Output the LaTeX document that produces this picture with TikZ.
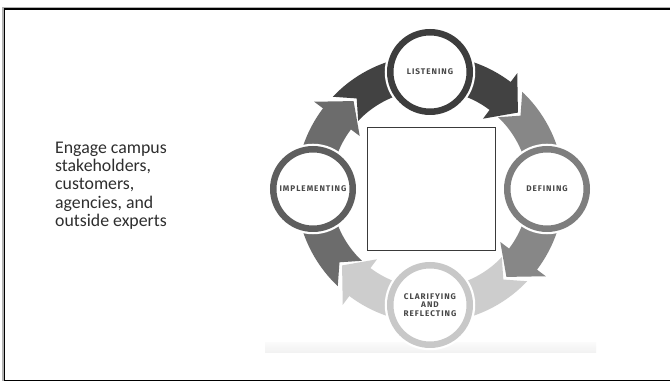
\documentclass[tikz,border=0pt]{standalone}
\usepackage{fontspec}
\setmainfont{Carlito}
\newfontfamily\labfont{Fira Sans}[LetterSpace=12]
\definecolor{cList}{HTML}{3D3D3D}
\definecolor{cDef}{HTML}{7E7E7E}
\definecolor{cClar}{HTML}{C8C8C8}
\definecolor{cImpl}{HTML}{5E5E5E}
\definecolor{aList}{HTML}{424242}
\definecolor{aDef}{HTML}{878787}
\definecolor{aClar}{HTML}{CDCDCD}
\definecolor{aImpl}{HTML}{6C6C6C}
\definecolor{labtext}{HTML}{484848}
\definecolor{bodytext}{HTML}{2E2E2E}
\definecolor{boxline}{HTML}{3A3A3A}
\newcommand\ringarrow[3]{%
  \fill[#1] ({#2+7.5}:134) arc[start angle={#2+7.5}, end angle=#3, radius=134]
    -- (#3:145) -- ({#3-12}:116.5) -- (#3:88) -- (#3:99)
    arc[start angle=#3, end angle={#2+7.5}, radius=99] -- (#2:116.5) -- cycle;}
\begin{document}
\begin{tikzpicture}[x=1pt,y=1pt,
  stage/.style={circle, minimum size=79.5pt, inner sep=0pt, fill=white,
    draw=#1, line width=6.5pt,
    preaction={draw=white, line width=11pt},
    font=\labfont\bfseries\fontsize{8.2}{8.3}\selectfont,
    text=labtext, align=center},
  frameline/.style={line width=1.8pt, draw=black},
  body/.style={anchor=base west, align=left, inner sep=0pt, text=bodytext,
    font=\fontsize{17.8}{18.35}\selectfont},
  centerbox/.style={draw=boxline, line width=0.8pt, fill=white,
    minimum width=128pt, minimum height=123pt, inner sep=0pt}
]
\useasboundingbox (0,0) rectangle (670,382);
\fill[white] (0,0) rectangle (670,382);
% frame
\draw[gray!60, line width=1.2pt] (690,374.6) -- (3,374.6) -- (3,0.5);
\draw[frameline] (690,373) -- (4.5,373) -- (4.5,1.5) -- (690,1.5);
% image bottom strip
\shade[top color=gray!4, bottom color=gray!11] (265,29) rectangle (596,39);
% ring arrows
\begin{scope}[shift={(430,193)}]
  \ringarrow{aImpl}{219}{143}
  \ringarrow{aList}{129}{53}
  \ringarrow{aDef}{39}{-37}
  \ringarrow{aClar}{-51}{-127}
\end{scope}
% stages
\node[stage=cList] (list) at (430,310) {LISTENING};
\node[stage=cDef] (def) at (547,193) {DEFINING};
\node[stage=cClar] (clar) at (430,77) {CLARIFYING\\AND\\REFLECTING};
\node[stage=cImpl] (impl) at (313,193) {IMPLEMENTING};
% centre box
\node[centerbox] (box) at (431,193.5) {};
% left text
\node[body] (txt) at (55,155.3) {Engage campus\\stakeholders,\\customers,\\agencies, and\\outside experts};
\end{tikzpicture}
\end{document}
